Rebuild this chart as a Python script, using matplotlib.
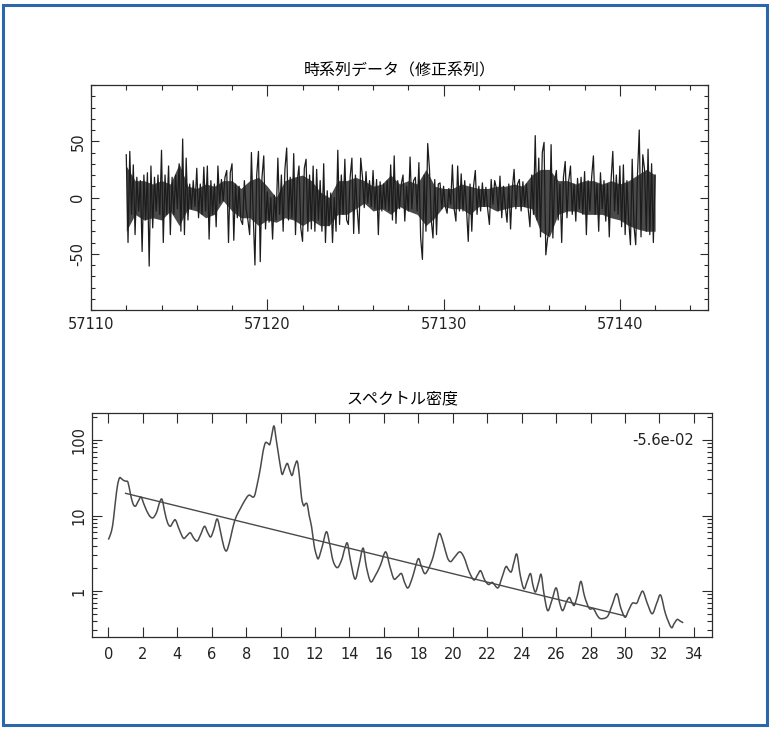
import numpy as np
import matplotlib.pyplot as plt
from matplotlib.patches import Rectangle, PathPatch
from matplotlib.path import Path
from matplotlib.ticker import MultipleLocator, LogLocator, NullFormatter, FixedLocator

# corrected series, 0.1 day sampling from MJD 57112.0
ts_t0 = 57112.0
ts_dt = 0.1
ts_vals = [
    38, -40, 41, -15, 29, -33, 18, -12, 15, -48,
    20, -20, 22, -61, 28, -27, 18, -12, 20, -15,
    42, -40, 20, -15, 28, -33, 18, -15, 20, -10,
    30, -30, 52, -33, 35, -20, 12, -10, 15, -8,
    26, -18, 12, -15, 27, -12, 28, -37, 15, -15,
    12, -26, 28, -5, 16, -3, 18, 24, -40, 22,
    30, -38, 12, -18, 10, -20, -24, 15, -10, -20,
    -33, 40, -15, -60, 20, 41, -57, 18, 37, -28,
    5, -22, 0, -37, 2, -20, 35, -15, 20, -30,
    25, 44, -20, 18, -18, 39, -33, 15, 28, -27,
    -39, 26, 34, -30, 20, -28, 28, -30, 25, -20,
    15, -30, 30, -40, 6, -25, 4, -40, 0, -30,
    42, -24, 20, -15, 34, -20, -24, 18, 35, -32,
    20, -10, -32, 35, 18, -9, 23, -5, 15, -8,
    24, -10, 16, -33, 14, -12, 12, -10, 15, -12,
    29, -20, 37, -23, 15, -10, 12, 20, -21, 10,
    -12, 36, -10, 15, 18, -12, 31, -36, -55, 20,
    -30, 48, 25, -20, -36, 16, -33, 12, 13, -10,
    10, -8, -14, 8, -6, 29, -10, -21, 28, -12,
    21, -12, 15, -10, -39, 12, -30, 10, 24, -15,
    10, -12, 13, -8, 9, -10, -24, 16, -6, 15,
    8, -12, 19, -18, 10, -8, -22, 12, -28, 8,
    25, -10, 12, 16, -12, 14, -8, 12, -10, -26,
    20, -15, 55, -20, 35, -35, 40, 49, -51, -36,
    -30, 47, -36, 15, 24, -20, 12, -40, 18, 32,
    -18, 15, 28, -15, 12, -21, 17, -10, 18, -15,
    23, -33, 15, -12, 18, 37, -15, 12, -30, 22,
    -10, 15, -21, 12, -35, 15, 41, -12, 20, -15,
    28, -26, 29, -33, 15, -20, -42, 34, -25, -42,
    20, 60, -35, 38, 25, -30, 43, -33, 30, -40, 20,
]

# dense core of the series (upper / lower edge), every 0.5 day
core_dt = 0.5
core_hi = [
    28, 15, 15, 12, 15, 12, 30, 10, 8, 12, 10, 15, 15, 8, 15, 18, 10, 0, 15, 18,
    20, 15, 5, 0, 15, 15, 18, 15, 10, 12, 20, 12, 15, 12, 25, 10, 8, 8, 12, 10,
    8, 8, 10, 10, 12, 10, 20, 25, 25, 15, 15, 12, 15, 15, 12, 15, 12, 15, 20, 25, 20,
]
core_lo = [
    -30, -15, -20, -18, -20, -12, -25, -10, -12, -18, -15, -3, -12, -18, -18, -25, -20, -22, -18, -20,
    -25, -20, -25, -25, -15, -15, -10, -5, -12, -10, -15, -8, -12, -15, -25, -18, -8, -10, -10, -15,
    -8, -8, -12, -10, -8, -8, -10, -30, -35, -15, -12, -12, -15, -15, -15, -18, -20, -25, -28, -30, -30,
]

# spectral density
spec_freq = [
    0.00, 0.12, 0.24, 0.34, 0.42, 0.53, 0.65, 0.78, 0.90, 1.03, 1.14, 1.27, 1.42, 1.57,
    1.74, 1.90, 2.10, 2.35, 2.58, 2.80, 2.98, 3.12, 3.28, 3.44, 3.60, 3.76, 3.90, 4.12,
    4.36, 4.56, 4.76, 4.96, 5.16, 5.36, 5.58, 5.76, 5.94, 6.12, 6.32, 6.52, 6.70, 6.86,
    7.04, 7.20, 7.35, 7.50, 7.67, 7.90, 8.16, 8.45, 8.63, 8.84, 8.98, 9.12, 9.27, 9.38,
    9.50, 9.62, 9.75, 9.90, 10.01, 10.10, 10.24, 10.39, 10.53, 10.67, 10.82, 10.97, 11.10,
    11.22, 11.34, 11.45, 11.55, 11.66, 11.80, 11.95, 12.08, 12.20, 12.42, 12.66, 12.85,
    13.05, 13.30, 13.55, 13.72, 13.88, 14.05, 14.32, 14.55, 14.79, 14.98, 15.23, 15.50,
    15.80, 16.10, 16.35, 16.58, 16.80, 17.02, 17.20, 17.40, 17.65, 17.98, 18.15, 18.37,
    18.60, 18.85, 19.05, 19.23, 19.45, 19.68, 19.87, 20.10, 20.40, 20.65, 20.95, 21.23,
    21.45, 21.62, 21.85, 22.08, 22.30, 22.62, 22.85, 23.08, 23.25, 23.40, 23.55, 23.72,
    23.92, 24.13, 24.32, 24.51, 24.65, 24.80, 24.98, 25.13, 25.30, 25.51, 25.75, 26.00,
    26.20, 26.38, 26.60, 26.77, 26.92, 27.06, 27.25, 27.44, 27.65, 27.92, 28.17, 28.40,
    28.60, 28.98, 29.25, 29.52, 29.75, 30.00, 30.20, 30.43, 30.68, 30.85, 31.04, 31.30,
    31.58, 31.85, 32.07, 32.35, 32.68, 32.85, 33.03, 33.20, 33.38,
]
spec_power = [
    4.8, 5.6, 7.2, 11, 16, 25, 31.5, 30.5, 29, 28.5, 27.5, 20, 14.5, 13.3,
    15.5, 17.5, 13.5, 10.2, 9.3, 11, 15, 16.3, 11, 8, 7.2, 8.2, 8.7, 6.5,
    5.0, 5.4, 5.9, 5.0, 4.6, 5.6, 7.2, 6.0, 5.2, 6.5, 9.0, 6.0, 3.9, 3.4,
    4.5, 6.5, 8.7, 10.5, 12.4, 15.5, 18.6, 17.7, 25, 44, 70, 92, 90, 88,
    120, 153, 100, 60, 42, 35, 42, 49, 40, 34, 45, 52, 32,
    17, 13.5, 14.4, 14.0, 10, 7.1, 4.0, 3.0, 2.7, 3.9, 6.1, 4.2,
    2.5, 2.04, 2.6, 3.6, 4.3, 2.6, 1.44, 2.2, 3.7, 2.1, 1.33, 1.6,
    2.2, 3.3, 2.1, 1.45, 1.55, 1.7, 1.3, 1.1, 1.5, 2.65, 2.2, 1.7,
    2.0, 2.8, 4.3, 5.8, 4.3, 2.8, 2.45, 2.8, 3.3, 2.8, 1.8, 1.4,
    1.65, 1.85, 1.4, 1.22, 1.3, 1.1, 1.5, 2.1, 1.9, 1.8, 2.4, 3.06,
    1.6, 1.07, 1.35, 1.7, 1.2, 0.97, 1.3, 1.65, 0.9, 0.55, 0.75, 1.1,
    0.7, 0.55, 0.72, 0.82, 0.7, 0.65, 0.9, 1.34, 0.85, 0.59, 0.58, 0.47,
    0.43, 0.46, 0.65, 0.92, 0.6, 0.45, 0.55, 0.69, 0.69, 0.85, 0.99, 0.68,
    0.5, 0.7, 0.88, 0.5, 0.33, 0.37, 0.42, 0.40, 0.38,
]

# log10 power-law fit over 1..30
fit_slope = -0.056
fit_icpt = 1.35
fit_range = [1.0, 30.0]

jp_font = ['Noto Sans CJK JP', 'DejaVu Sans']
num_size = 10.5

plt.rcParams['axes.unicode_minus'] = False
plt.rcParams['font.family'] = ['DejaVu Sans', 'Noto Sans CJK JP']

W, H = 771, 729
fig = plt.figure(figsize=(W / 100, H / 100), dpi=100)
fig.patch.set_facecolor('white')
fig.patches.append(Rectangle((3 / W, 4 / H), 764 / W, 720 / H, transform=fig.transFigure,
                             fill=False, ec='#2a67ad', lw=2.2))

ink = '#2b2b2b'


def style_axes(ax):
    for s in ax.spines.values():
        s.set_color(ink)
        s.set_linewidth(0.9)
    ax.tick_params(which='both', direction='in', top=True, right=True, color=ink,
                   labelsize=num_size, labelcolor='#222222', width=0.8)
    ax.tick_params(axis='y', labelrotation=90)
    for lab in ax.get_yticklabels():
        lab.set_va('center')


def smooth_path(x, y):
    # Catmull-Rom curve through the points, in (x, log10 y)
    x = np.asarray(x, float)
    ly = np.log10(np.asarray(y, float))
    verts = [(x[0], ly[0])]
    codes = [Path.MOVETO]
    n = len(x)
    for i in range(n - 1):
        p0 = (x[max(i - 1, 0)], ly[max(i - 1, 0)])
        p1 = (x[i], ly[i])
        p2 = (x[i + 1], ly[i + 1])
        p3 = (x[min(i + 2, n - 1)], ly[min(i + 2, n - 1)])
        c1 = (p1[0] + (p2[0] - p0[0]) / 6, p1[1] + (p2[1] - p0[1]) / 6)
        c2 = (p2[0] - (p3[0] - p1[0]) / 6, p2[1] - (p3[1] - p1[1]) / 6)
        verts += [c1, c2, p2]
        codes += [Path.CURVE4] * 3
    verts = [(vx, 10 ** vy) for vx, vy in verts]
    return Path(verts, codes)


# time series panel
ax1 = fig.add_axes([91 / W, 1 - 310 / H, 617 / W, 225 / H])
tc = ts_t0 + core_dt * np.arange(len(core_hi))
ax1.fill_between(tc, core_lo, core_hi, color='#363636', alpha=0.9, lw=0)
t = ts_t0 + ts_dt * np.arange(len(ts_vals))
ax1.plot(t, ts_vals, color='#1c1c1c', lw=0.9)
ax1.set_xlim(57110, 57145)
ax1.set_ylim(-100, 100)
ax1.xaxis.set_major_locator(MultipleLocator(10))
ax1.xaxis.set_minor_locator(MultipleLocator(2))
ax1.yaxis.set_major_locator(FixedLocator([-50, 0, 50]))
ax1.yaxis.set_minor_locator(MultipleLocator(10))
style_axes(ax1)
ax1.tick_params(axis='x', which='major', length=8, pad=5)
ax1.tick_params(axis='x', which='minor', length=3.5)
ax1.tick_params(axis='y', which='major', length=6, pad=4)
ax1.tick_params(axis='y', which='minor', length=3)
ax1.set_title('時系列データ（修正系列）', fontsize=11.5, family=jp_font, pad=7)

# spectrum panel
ax2 = fig.add_axes([92 / W, 1 - 637 / H, 620 / W, 224 / H])
ax2.set_yscale('log')
ax2.add_patch(PathPatch(smooth_path(spec_freq, spec_power), fill=False,
                        ec='#4a4a4a', lw=1.1))
fx = np.array(fit_range)
ax2.plot(fx, 10 ** (fit_icpt + fit_slope * fx), color='#4a4a4a', lw=1.0)
ax2.set_xlim(-0.95, 35.05)
ax2.set_ylim(0.246, 228)
ax2.xaxis.set_major_locator(MultipleLocator(2))
ax2.yaxis.set_major_locator(FixedLocator([1, 10, 100]))
ax2.yaxis.set_major_formatter(plt.FuncFormatter(lambda v, p: f'{v:g}'))
ax2.yaxis.set_minor_locator(LogLocator(base=10, subs=np.arange(2, 10)))
ax2.yaxis.set_minor_formatter(NullFormatter())
style_axes(ax2)
ax2.tick_params(axis='x', which='major', length=7, pad=7)
ax2.tick_params(axis='y', which='major', length=7, pad=4)
ax2.tick_params(axis='y', which='minor', length=3.5)
ax2.set_title('スペクトル密度', fontsize=11.5, family=jp_font, pad=7)
ax2.text(0.971, 0.879, f'{fit_slope:.1e}', transform=ax2.transAxes, ha='right',
         va='center', fontsize=num_size, color='#222222')

fig.savefig('out.png', dpi=100)
